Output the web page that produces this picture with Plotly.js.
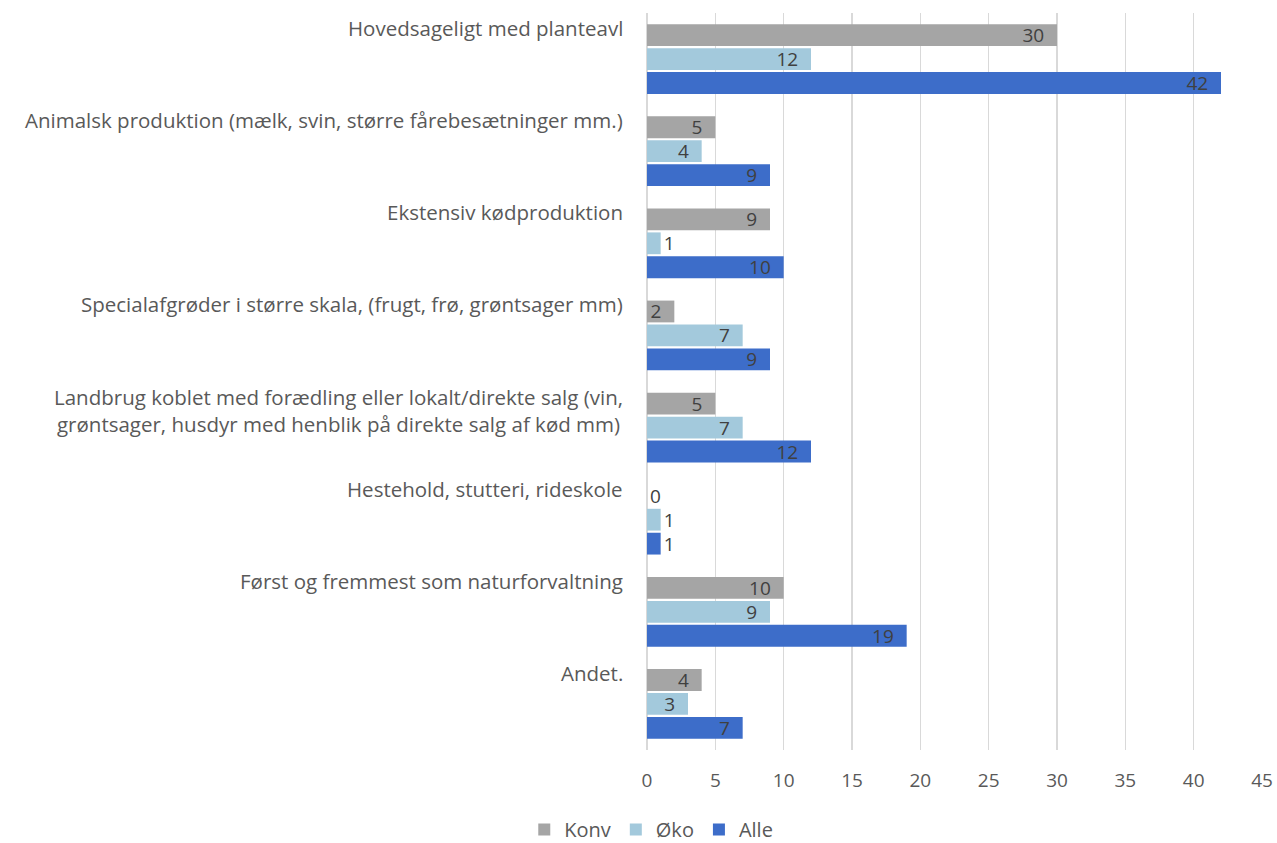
<!DOCTYPE html>
<html>
<head>
<meta charset="utf-8">
<script src="https://cdn.plot.ly/plotly-3.0.1.min.js"></script>
<style>html,body{margin:0;padding:0;background:#fff;}#chart{width:1277px;height:843px;}</style>
</head>
<body>
<div id="chart"></div>
<script>
const categories = [
  "Hovedsageligt med planteavl",
  "Animalsk produktion (mælk, svin, større fårebesætninger mm.)",
  "Ekstensiv kødproduktion",
  "Specialafgrøder i større skala, (frugt, frø, grøntsager mm)",
  "Landbrug koblet med forædling eller lokalt/direkte salg (vin,<br>grøntsager, husdyr med henblik på direkte salg af kød mm)",
  "Hestehold, stutteri, rideskole",
  "Først og fremmest som naturforvaltning",
  "Andet."
];
const konv = [30, 5, 9, 2, 5, 0, 10, 4];
const oko  = [12, 4, 1, 7, 7, 1, 9, 3];
const alle = [42, 9, 10, 9, 12, 1, 19, 7];
const seriesNames = ["Konv", "Øko", "Alle"];
const tickVals = [0, 5, 10, 15, 20, 25, 30, 35, 40, 45];

const FONT = "'Open Sans', 'Noto Sans', sans-serif";
const TXT = "#595959";
const colors = ["#a5a5a5", "#a3c9dc", "#3d6dc9"];
const catIdx = categories.map((c, i) => i);

function mk(vals, name, color) {
  return {
    type: "bar",
    orientation: "h",
    name: name,
    x: vals,
    y: catIdx,
    marker: {color: color},
    texttemplate: vals.map(v => v >= 2 ? "%{x}\u00a0\u00a0" : "%{x}"),
    textposition: vals.map(v => v >= 2 ? "inside" : "outside"),
    textangle: 0,
    insidetextanchor: "end",
    constraintext: "none",
    cliponaxis: false,
    insidetextfont: {family: FONT, size: 19, color: "#404040"},
    outsidetextfont: {family: FONT, size: 19, color: "#404040"},
    hoverinfo: "x+name"
  };
}

const data = [
  mk(konv, seriesNames[0], colors[0]),
  mk(oko, seriesNames[1], colors[1]),
  mk(alle, seriesNames[2], colors[2])
];

const annotations = categories.map((c, i) => ({
  xref: "paper", yref: "y",
  x: 0, y: i - 0.5,
  xanchor: "right", yanchor: "top",
  xshift: -22, yshift: 1,
  text: c, align: "center", showarrow: false,
  font: {family: FONT, size: 20.5, color: TXT}
}));

const layout = {
  width: 1277, height: 843,
  margin: {l: 647, r: 15, t: 13, b: 93},
  paper_bgcolor: "#fff", plot_bgcolor: "#fff",
  barmode: "group",
  bargap: 0.22,
  bargroupgap: 0.09,
  font: {family: FONT, size: 19, color: TXT},
  xaxis: {
    range: [0, 45],
    tickvals: tickVals,
    ticktext: tickVals.map(String),
    showgrid: true, gridcolor: "#d9d9d9", gridwidth: 1.5,
    zeroline: true, zerolinecolor: "#d9d9d9", zerolinewidth: 1.5,
    showline: false,
    ticks: "",
    ticklabelstandoff: 17,
    tickfont: {family: FONT, size: 19, color: TXT},
    fixedrange: true
  },
  yaxis: {
    type: "linear",
    range: [categories.length - 0.5, -0.5],
    showticklabels: false,
    showgrid: false, zeroline: false, showline: false, ticks: "",
    fixedrange: true
  },
  showlegend: true,
  legend: {
    orientation: "h",
    xref: "container", yref: "container",
    x: 0.51, xanchor: "center",
    y: 0.016, yanchor: "middle",
    font: {family: FONT, size: 20, color: TXT},
    traceorder: "normal"
  },
  annotations: annotations
};

Plotly.newPlot("chart", data, layout, {displayModeBar: false, staticPlot: true});
</script>
</body>
</html>
